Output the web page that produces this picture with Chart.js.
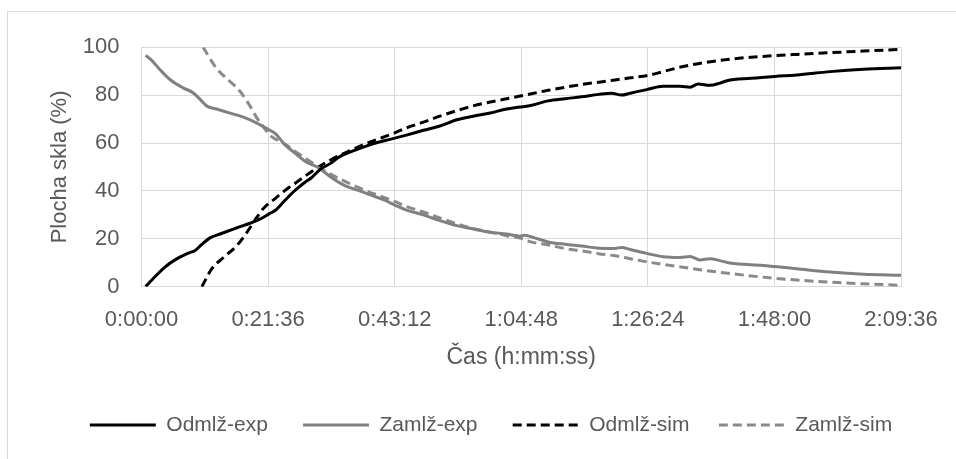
<!DOCTYPE html>
<html><head><meta charset="utf-8">
<script src="https://cdn.jsdelivr.net/npm/chart.js@4.4.0/dist/chart.umd.min.js"></script>
<style>
html,body{margin:0;padding:0;background:#fff;overflow:hidden;width:956px;height:459px;}
#frame{position:absolute;left:7px;top:11px;width:990px;height:480px;border-top:1px solid #d9d9d9;border-left:1px solid #d9d9d9;box-sizing:border-box;}
#c{position:absolute;left:8px;top:12px;}
</style></head><body>
<div id="frame"></div>
<canvas id="c" width="966" height="470" style="width:966px;height:470px"></canvas>
<script>
// time in minutes, values in %
const seriesNames = ['Odmlž-exp', 'Zamlž-exp', 'Odmlž-sim', 'Zamlž-sim'];
const xTickLabels = ['0:00:00', '0:21:36', '0:43:12', '1:04:48', '1:26:24', '1:48:00', '2:09:36'];
const yTickLabels = ['0', '20', '40', '60', '80', '100'];

const odmlzExpT = [0.7, 2.0, 4.0, 6.0, 8.3, 9.1, 10.3, 11.7, 13.4, 16.2, 18.5, 20.2, 21.9, 22.8, 24.5, 26.2, 27.9, 29.0, 30.5, 32.4, 33.6, 35.9, 38.1, 40.4, 42.4, 45.2, 48.1, 50.9, 53.8, 56.6, 59.5, 62.3, 64.6, 66.6, 69.4, 72.3, 75.1, 78.0, 80.2, 81.9, 83.4, 86.2, 89.0, 91.9, 93.6, 95.0, 97.0, 98.7, 99.9, 104.0, 108.1, 111.8, 117.5, 123.2, 129.6];
const odmlzExpV = [0, 3.4, 8.2, 11.6, 14.3, 15.0, 17.7, 20.4, 22.0, 24.5, 26.5, 28.2, 30.6, 31.8, 36.1, 40.2, 43.6, 45.5, 49.0, 51.7, 54.0, 56.5, 58.5, 60.3, 61.5, 63.3, 65.3, 67.1, 69.7, 71.2, 72.5, 74.2, 75.0, 75.8, 77.6, 78.5, 79.3, 80.3, 80.8, 80.0, 80.8, 82.3, 83.7, 83.7, 83.3, 84.6, 84.1, 85.0, 86.0, 87.0, 87.8, 88.4, 89.8, 90.8, 91.4];

const zamlzExpT = [0.7, 1.7, 3.2, 4.9, 7.1, 8.8, 10.0, 11.1, 12.8, 15.1, 17.4, 19.6, 21.6, 22.8, 24.5, 26.2, 27.9, 30.2, 32.4, 34.7, 37.0, 39.3, 41.5, 43.3, 45.2, 48.1, 50.9, 53.8, 56.6, 59.5, 62.3, 64.6, 65.4, 67.1, 69.4, 72.3, 75.1, 78.0, 80.8, 81.9, 83.4, 86.2, 89.0, 91.9, 93.6, 95.3, 97.0, 98.7, 100.4, 106.1, 108.1, 111.8, 117.5, 123.2, 129.6];
const zamlzExpV = [96.6, 94.6, 90.5, 86.4, 83.0, 81.0, 78.2, 75.5, 74.2, 72.5, 70.8, 68.4, 65.7, 64.0, 59.2, 55.8, 52.4, 49.7, 45.6, 42.2, 40.2, 38.1, 36.1, 34.0, 32.0, 30.0, 27.6, 25.5, 24.1, 22.7, 22.0, 21.1, 21.5, 20.4, 18.7, 17.7, 17.0, 16.1, 16.0, 16.4, 15.5, 13.9, 12.5, 12.2, 12.6, 11.2, 11.7, 10.9, 9.9, 8.9, 8.4, 7.5, 6.1, 5.2, 4.8];

const odmlzSimT = [10.3, 12.0, 14.0, 16.2, 17.9, 19.4, 20.8, 22.8, 24.5, 26.8, 29.6, 32.4, 35.3, 38.1, 41.0, 43.3, 45.2, 48.1, 50.9, 53.8, 56.6, 59.5, 62.3, 64.6, 69.4, 75.1, 80.8, 83.4, 86.4, 89.0, 92.0, 94.7, 100.4, 104.0, 108.1, 111.8, 117.5, 123.2, 129.6];
const odmlzSimV = [0, 7.5, 12.2, 17.0, 22.4, 27.9, 32.7, 36.8, 40.2, 44.2, 49.0, 53.1, 56.5, 59.5, 62.2, 64.3, 66.3, 68.7, 71.2, 73.5, 75.5, 77.1, 78.5, 79.6, 82.0, 84.4, 86.3, 87.2, 88.2, 89.8, 91.7, 93.0, 95.0, 95.8, 96.5, 97.0, 97.7, 98.4, 99.1];

const zamlzSimT = [10.5, 12.8, 15.1, 16.8, 18.5, 19.6, 20.8, 21.9, 24.5, 26.8, 29.6, 32.4, 35.3, 38.1, 41.0, 43.3, 45.2, 48.1, 50.9, 53.8, 56.6, 59.5, 62.3, 64.6, 66.6, 69.4, 72.3, 75.1, 78.0, 80.8, 83.6, 86.2, 89.0, 94.7, 100.4, 108.1, 111.8, 117.5, 123.2, 129.6];
const zamlzSimV = [100, 91.2, 85.7, 81.6, 75.5, 70.8, 66.7, 63.3, 59.5, 55.5, 51.0, 46.8, 43.3, 40.3, 37.6, 35.5, 33.5, 31.2, 28.7, 26.3, 24.3, 22.8, 21.3, 20.3, 18.6, 17.5, 15.9, 15.0, 13.8, 12.9, 11.6, 10.4, 9.3, 7.3, 5.5, 3.5, 2.8, 1.9, 1.2, 0.6];

function pts(t, v) { return t.map((m, i) => ({ x: m * 60, y: v[i] })); }

const FONT = "'Liberation Sans', Arial, sans-serif";
const TXT = '#595959';
const GRID = '#d9d9d9';
const NB = '\u00a0';
const legendTrail = [5, 5, 4, 0];

function ds(label, t, v, color, dash) {
  return {
    label, data: pts(t, v), borderColor: color, backgroundColor: color,
    borderWidth: 3, borderDash: dash, pointRadius: 0, pointHoverRadius: 0,
    pointStyle: 'line', cubicInterpolationMode: 'monotone', fill: false
  };
}

new Chart(document.getElementById('c'), {
  type: 'line',
  data: {
    datasets: [
      ds(seriesNames[0], odmlzExpT, odmlzExpV, '#000000', []),
      ds(seriesNames[1], zamlzExpT, zamlzExpV, '#808080', []),
      ds(seriesNames[2], odmlzSimT, odmlzSimV, '#000000', [9, 5]),
      ds(seriesNames[3], zamlzSimT, zamlzSimV, '#8a8a8a', [9, 5])
    ]
  },
  options: {
    responsive: false, animation: false,
    layout: { padding: { left: 73, top: 30, right: 73, bottom: 36.5 } },
    plugins: {
      tooltip: { enabled: false },
      legend: {
        position: 'bottom',
        labels: {
          usePointStyle: true, pointStyle: 'line', pointStyleWidth: 66, boxWidth: 66,
          padding: 6, color: TXT, font: { family: FONT, size: 21 },
          generateLabels: chart => {
            const items = Chart.defaults.plugins.legend.labels.generateLabels(chart);
            items.forEach((it, i) => {
              const d = chart.data.datasets[i];
              it.text = d.label + NB.repeat(legendTrail[i]);
              it.lineDash = d.borderDash;
              it.lineWidth = d.borderWidth;
              it.strokeStyle = d.borderColor;
              it.fillStyle = d.borderColor;
              it.pointStyle = 'line';
            });
            return items;
          }
        }
      }
    },
    scales: {
      x: {
        type: 'linear', min: 0, max: 7776,
        afterFit: s => { s.height = 121.8; },
        ticks: { stepSize: 1296, color: TXT, font: { family: FONT, size: 22 }, padding: 20.1, maxRotation: 0,
          callback: (v, i) => xTickLabels[i] },
        grid: { color: GRID, lineWidth: 1, drawTicks: false },
        border: { color: GRID, width: 1 },
        title: { display: true, text: 'Čas (h:mm:ss)', color: TXT, font: { family: FONT, size: 23 }, padding: { top: 0, bottom: 36.7 } }
      },
      y: {
        min: 0, max: 100,
        afterFit: s => { s.width = 60.5; },
        ticks: { stepSize: 20, color: TXT, font: { family: FONT, size: 22 }, padding: 22,
          callback: (v, i) => yTickLabels[i] },
        grid: { color: GRID, lineWidth: 1, drawTicks: false },
        border: { color: GRID, width: 1 },
        title: { display: true, text: 'Plocha skla (%)', color: TXT, font: { family: FONT, size: 22 }, padding: { top: -34.7, bottom: 0 } }
      }
    }
  }
});
</script>
</body></html>
